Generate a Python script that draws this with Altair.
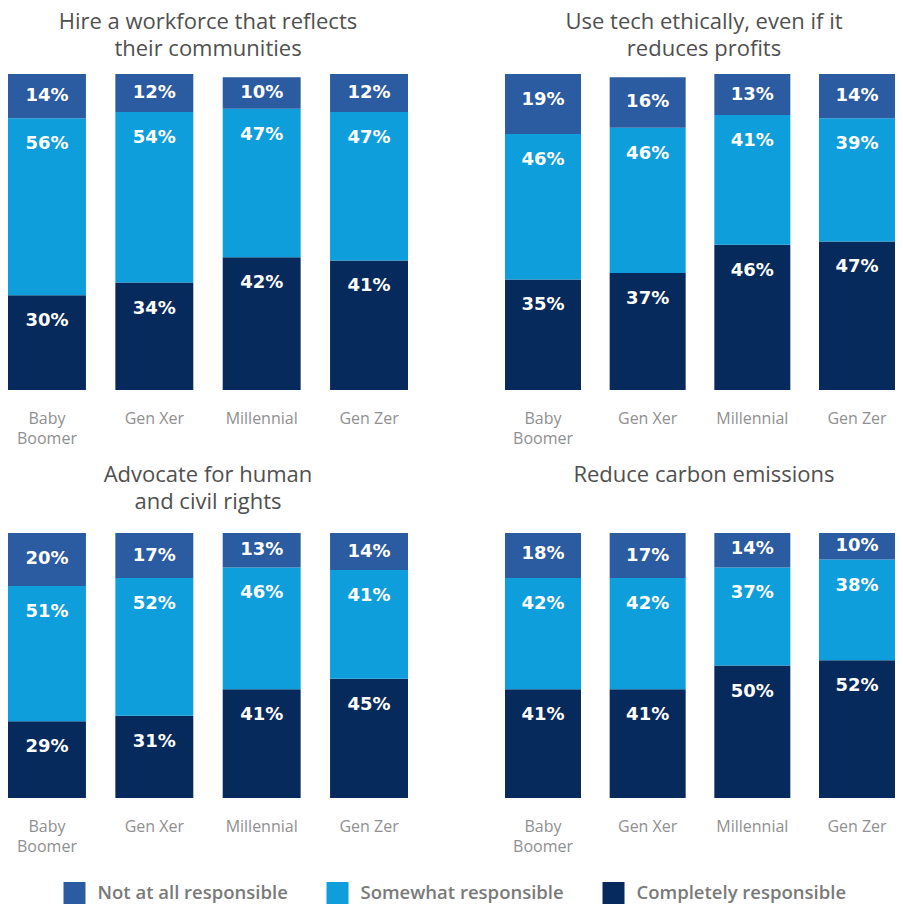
import altair as alt
import pandas as pd

gens = ["Baby Boomer", "Gen Xer", "Millennial", "Gen Zer"]
levels = ["Not at all responsible", "Somewhat responsible", "Completely responsible"]
colors = ["#2B5BA1", "#0D9EDB", "#062A5C"]

titles = [
    ["Hire a workforce that reflects", "their communities"],
    ["Use tech ethically, even if it", "reduces profits"],
    ["Advocate for human", "and civil rights"],
    ["Reduce carbon emissions", " "],
]
not_at_all = [[14, 12, 10, 12], [19, 16, 13, 14], [20, 17, 13, 14], [18, 17, 14, 10]]
somewhat = [[56, 54, 47, 47], [46, 46, 41, 39], [51, 52, 46, 41], [42, 42, 37, 38]]
completely = [[30, 34, 42, 41], [35, 37, 46, 47], [29, 31, 41, 45], [41, 41, 50, 52]]

FONT = "Open Sans"


def panel(i, w, h, offset, dx):
    rows = []
    for j, g in enumerate(gens):
        for o, (lvl, vals) in enumerate(
            [(levels[2], completely), (levels[1], somewhat), (levels[0], not_at_all)]
        ):
            rows.append(dict(gen=g, level=lvl, v=vals[i][j], order=o))
    df = pd.DataFrame(rows)
    k = 26.0 / h * 100.0
    base = (
        alt.Chart(df)
        .transform_stack(
            stack="v",
            groupby=["gen"],
            sort=[alt.SortField("order", order="ascending")],
            as_=["y0", "y1"],
        )
        .transform_calculate(
            ly=f"datum.y1 - min(datum.v / 2, {k})",
            lab="datum.v + '%'",
        )
    )
    xscale = alt.Scale(paddingInner=0.274, paddingOuter=0)
    xenc = alt.X(
        "gen:N",
        sort=gens,
        scale=xscale,
        axis=alt.Axis(
            title=None,
            labelExpr="datum.label == 'Baby Boomer' ? ['Baby', 'Boomer'] : datum.label",
            domain=False,
            ticks=False,
            labelAngle=0,
            labelPadding=20,
            labelFontSize=16,
            labelFont=FONT,
            labelColor="#909090",
            labelLineHeight=20,
            labelBaseline="top",
        ),
    )
    yscale = alt.Scale(domain=[0, 100], clamp=True, nice=False)
    bars = base.mark_bar().encode(
        x=xenc,
        y=alt.Y("y0:Q", scale=yscale, axis=None),
        y2="y1:Q",
        color=alt.Color(
            "level:N",
            scale=alt.Scale(domain=levels, range=colors),
            legend=alt.Legend(
                title=None,
                orient="none",
                legendX=55.5,
                legendY=808,
                direction="horizontal",
                columns=3,
                symbolType="square",
                symbolSize=484,
                symbolStrokeWidth=0,
                labelFontSize=18.5,
                labelFont="Open Sans",
                labelFontWeight=600,
                labelColor="#7a7a7a",
                labelOffset=12,
                columnPadding=38,
                labelLimit=300,
            ),
        ),
    )
    text = base.mark_text(
        color="white", fontSize=18, fontWeight="bold", font="DejaVu Sans",
        baseline="middle",
    ).encode(
        x=alt.X("gen:N", sort=gens, scale=xscale),
        y=alt.Y("ly:Q", scale=yscale, axis=None),
        text="lab:N",
    )
    return (bars + text).properties(
        width=w,
        height=h,
        title=alt.TitleParams(
            text=titles[i],
            fontSize=22,
            font=FONT,
            fontWeight="normal",
            color="#505050",
            lineHeight=27,
            anchor="middle",
            offset=offset,
            dx=dx,
        ),
    )


top = alt.hconcat(panel(0, 400, 316, 13.5, 0), panel(1, 390, 316, 13.5, 4), spacing=97)
bottom = alt.hconcat(panel(2, 400, 265, 19, 0), panel(3, 390, 265, 19, 4), spacing=97)
chart = (
    alt.vconcat(top, bottom, spacing=18)
    .properties(padding={"top": 2, "left": 0, "right": 0, "bottom": 0})
    .configure_view(stroke=None)
)

chart.save("out.html", embed_options={"renderer": "svg", "actions": False})
